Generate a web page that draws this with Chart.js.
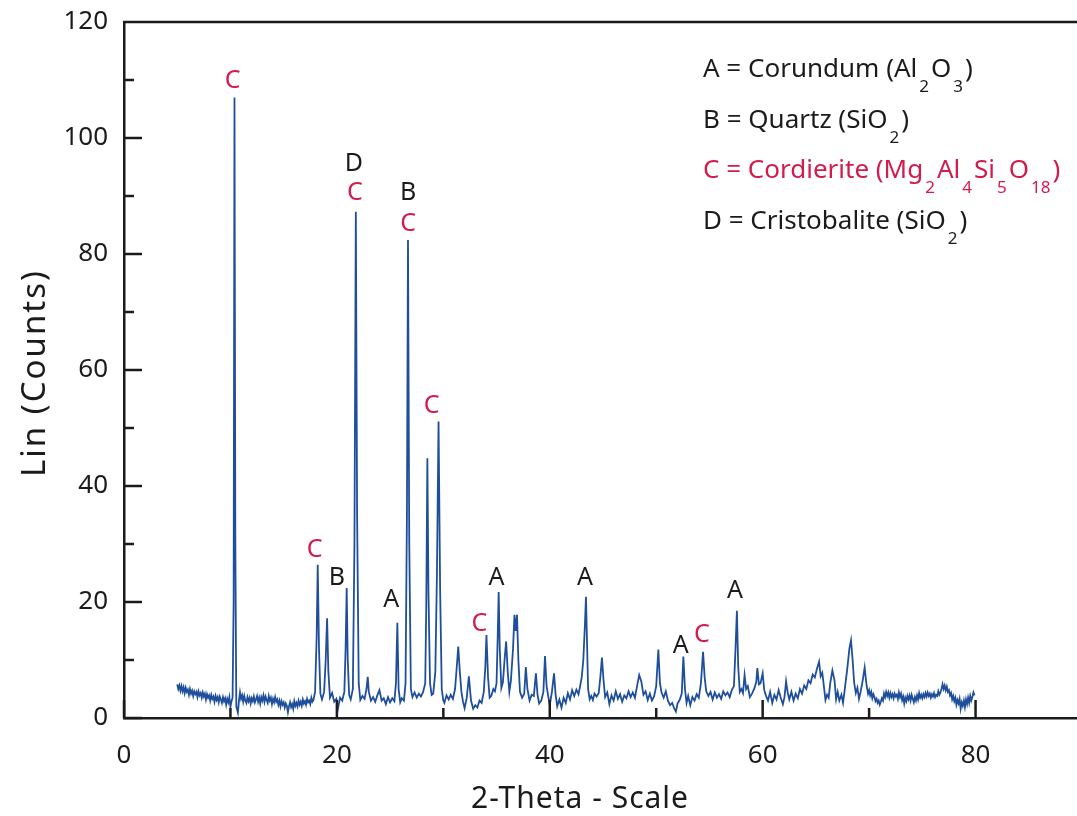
<!DOCTYPE html>
<html>
<head>
<meta charset="utf-8">
<script src="https://cdn.jsdelivr.net/npm/chart.js@4.4.1/dist/chart.umd.min.js"></script>
<style>
  html, body { margin: 0; padding: 0; background: #fff; overflow: hidden; }
  #wrap { width: 1090px; height: 816px; }
</style>
</head>
<body>
<div id="wrap"><canvas id="xrd"></canvas></div>
<script>
/* ── Data ────────────────────────────────────────── */
const twoTheta = [
  5.0, 5.1, 5.2, 5.3, 5.4, 5.5, 5.6, 5.7, 5.8, 5.9,
  6.0, 6.1, 6.2, 6.3, 6.4, 6.5, 6.6, 6.7, 6.8, 6.9,
  7.0, 7.1, 7.2, 7.3, 7.4, 7.5, 7.6, 7.7, 7.8, 7.9,
  8.0, 8.1, 8.2, 8.3, 8.4, 8.5, 8.6, 8.7, 8.8, 8.9,
  9.0, 9.1, 9.2, 9.3, 9.4, 9.5, 9.6, 9.7, 9.8, 9.9,
  10.0, 10.1, 10.2, 10.3, 10.38, 10.46,
  10.55, 10.7, 10.8, 10.9, 11.0, 11.1, 11.2, 11.3, 11.4, 11.5,
  11.6, 11.7, 11.8, 11.9, 12.0, 12.1, 12.2, 12.3, 12.4, 12.5,
  12.6, 12.7, 12.8, 12.9, 13.0, 13.1, 13.2, 13.3, 13.4, 13.5,
  13.6, 13.7, 13.8, 13.9, 14.0, 14.1, 14.2, 14.3, 14.4, 14.5,
  14.6, 14.7, 14.8, 14.9, 15.0, 15.1, 15.2, 15.3, 15.4, 15.5,
  15.6, 15.7, 15.8, 15.9, 16.0, 16.1, 16.2, 16.3, 16.4, 16.5,
  16.6, 16.7, 16.8, 16.9, 17.0, 17.1, 17.2, 17.3, 17.4, 17.5,
  17.6, 17.7, 17.8, 17.95, 18.1,
  18.2, 18.32, 18.45, 18.6, 18.8, 18.95, 19.08, 19.2, 19.35, 19.55,
  19.75, 19.95, 20.1, 20.3, 20.5, 20.7, 20.82, 20.92, 21.02, 21.15,
  21.3, 21.5, 21.65, 21.78, 21.9, 22.05, 22.2, 22.4, 22.6, 22.78,
  22.9, 23.0, 23.2, 23.4, 23.6, 23.8, 24.0, 24.2, 24.4, 24.6,
  24.8, 25.0, 25.2, 25.4, 25.55, 25.68, 25.8, 25.95, 26.1, 26.3,
  26.45, 26.58, 26.68, 26.8, 26.95, 27.1, 27.3, 27.5, 27.7, 27.9,
  28.1, 28.3, 28.4, 28.5, 28.6, 28.75, 28.9, 29.05, 29.25, 29.4,
  29.55, 29.7, 29.85, 30.0, 30.1, 30.3, 30.5, 30.7, 30.9, 31.1,
  31.25, 31.4, 31.55, 31.7, 31.85, 32.0, 32.2, 32.4, 32.6, 32.8,
  33.0, 33.2, 33.4, 33.6, 33.8, 33.95, 34.05, 34.2, 34.35, 34.5,
  34.7, 34.85, 35.0, 35.12, 35.2, 35.3, 35.45, 35.6, 35.75, 35.9,
  36.05, 36.2, 36.35, 36.55, 36.68, 36.8, 36.92, 37.05, 37.2, 37.4,
  37.6, 37.75, 37.9, 38.1, 38.3, 38.5, 38.7, 38.85, 39.0, 39.2,
  39.4, 39.55, 39.7, 39.85, 40.0, 40.2, 40.4, 40.55, 40.7, 40.9,
  41.1, 41.3, 41.5, 41.7, 41.9, 42.1, 42.3, 42.5, 42.7, 42.85,
  43.0, 43.15, 43.3, 43.4, 43.5, 43.6, 43.75, 43.9, 44.05, 44.2,
  44.4, 44.6, 44.75, 44.9, 45.05, 45.2, 45.4, 45.6, 45.8, 46.0,
  46.2, 46.4, 46.6, 46.8, 47.0, 47.2, 47.4, 47.6, 47.8, 48.0,
  48.2, 48.4, 48.6, 48.8, 49.0, 49.2, 49.4, 49.6, 49.8, 50.0,
  50.2, 50.35, 50.5, 50.7, 50.9, 51.1, 51.3, 51.5, 51.7, 51.85,
  52.0, 52.2, 52.4, 52.55, 52.7, 52.85, 53.0, 53.2, 53.4, 53.6,
  53.8, 54.0, 54.2, 54.4, 54.55, 54.7, 54.9, 55.1, 55.3, 55.5,
  55.7, 55.9, 56.1, 56.3, 56.5, 56.7, 56.9, 57.1, 57.3, 57.45,
  57.58, 57.7, 57.85, 58.0, 58.15, 58.3, 58.45, 58.6, 58.8, 59.0,
  59.2, 59.4, 59.5, 59.65, 59.8, 60.0, 60.15, 60.3, 60.5, 60.7,
  60.9, 61.1, 61.3, 61.5, 61.7, 61.9, 62.05, 62.2, 62.35, 62.5,
  62.7, 62.9, 63.1, 63.3, 63.5, 63.7, 63.9, 64.1, 64.3, 64.5,
  64.7, 64.9, 65.1, 65.3, 65.45, 65.6, 65.75, 65.9, 66.05, 66.2,
  66.35, 66.55, 66.75, 66.9, 67.05, 67.2, 67.4, 67.55, 67.75, 67.95,
  68.15, 68.3, 68.45, 68.6, 68.75, 68.9, 69.05, 69.2, 69.4, 69.58,
  69.75, 69.9,
  70.0, 70.1, 70.2, 70.3, 70.4, 70.5, 70.6, 70.7, 70.8, 70.9,
  71.0, 71.1, 71.2, 71.3, 71.4, 71.5, 71.6, 71.7, 71.8, 71.9,
  72.0, 72.1, 72.2, 72.3, 72.4, 72.5, 72.6, 72.7, 72.8, 72.9,
  73.0, 73.1, 73.2, 73.3, 73.4, 73.5, 73.6, 73.7, 73.8, 73.9,
  74.0, 74.1, 74.2, 74.3, 74.4, 74.5, 74.6, 74.7, 74.8, 74.9,
  75.0, 75.1, 75.2, 75.3, 75.4, 75.5, 75.6, 75.7, 75.8, 75.9,
  76.0, 76.1, 76.2, 76.3, 76.4, 76.5, 76.6, 76.7, 76.8, 76.9,
  77.0, 77.1, 77.2, 77.3, 77.4, 77.5, 77.6, 77.7, 77.8, 77.9,
  78.0, 78.1, 78.2, 78.3, 78.4, 78.5, 78.6, 78.7, 78.8, 78.9,
  79.0, 79.1, 79.2, 79.3, 79.4, 79.5, 79.6, 79.7, 79.8, 79.9
];
const counts = [
  5.8, 5.0, 5.6, 4.7, 5.5, 4.6, 5.3, 4.3, 5.2, 4.5,
  4.9, 4.0, 5.0, 4.2, 4.7, 3.8, 4.6, 4.1, 4.5, 3.6,
  4.6, 3.9, 4.3, 3.5, 4.4, 3.7, 4.2, 3.2, 4.1, 3.5,
  3.9, 3.0, 4.0, 3.3, 3.7, 2.8, 3.8, 3.1, 3.6, 2.7,
  3.7, 3.2, 2.6, 3.6, 2.9, 3.4, 2.3, 3.3, 2.7, 3.6,
  1.9, 2.9, 3.5, 20, 107, 30,
  2.0, 0.9, 3.0, 4.4, 3.3, 3.9, 2.8, 3.8, 3.0, 2.6,
  3.6, 2.9, 3.5, 2.5, 3.4, 2.9, 3.7, 2.7, 3.2, 3.8,
  2.8, 3.5, 2.5, 3.6, 3.0, 3.9, 2.8, 3.7, 3.1, 2.6,
  3.8, 3.0, 3.5, 2.4, 3.3, 2.7, 3.6, 2.8, 3.2, 2.3,
  3.0, 2.0, 2.9, 2.3, 2.7, 1.8, 2.5, 2.1, 1.0, 2.0,
  2.7, 1.9, 2.4, 1.6, 2.9, 2.1, 2.6, 2.0, 3.0, 2.3,
  2.8, 2.1, 3.2, 2.5, 2.9, 2.3, 3.3, 2.7, 3.0, 2.4,
  3.5, 2.8, 3.1, 4.5, 14,
  26.4, 12, 4.2, 3.2, 4.5, 10, 17.2, 8, 3.5, 4.3,
  2.8, 3.3, 1.6, 3.5, 3.0, 4.5, 12, 22.4, 10, 4.0,
  3.2, 5, 30, 87.3, 35, 6, 3.1, 3.8, 3.3, 5,
  7.1, 4.5, 3.0, 3.6, 2.8, 3.9, 4.8, 3.0, 3.4, 2.4,
  3.6, 2.7, 3.4, 2.9, 6, 16.4, 5, 2.7, 3.4, 3.0,
  6, 35, 82.4, 30, 5, 3.6, 4.4, 3.5, 4.2, 3.7,
  4.5, 6, 20, 44.8, 22, 6, 4.0, 4.2, 8, 25,
  51.1, 22, 5, 3.0, 2.6, 3.9, 3.2, 4.0, 3.3, 5.0,
  8.5, 12.3, 8, 4.5, 2.8, 1.7, 3.5, 7.2, 3.0, 1.6,
  2.2, 1.8, 3.0, 2.6, 4.5, 9, 14.3, 7, 3.5, 3.8,
  5.0, 4.6, 6, 15, 21.7, 12, 5.2, 6.2, 10, 13.2,
  8, 4.5, 6.5, 12, 17.8, 15, 17.8, 10, 4.5, 3.5,
  4.2, 8.8, 5.0, 3.0, 4.0, 3.8, 7.7, 4.0, 2.5, 3.0,
  4.5, 10.7, 5.5, 3.8, 2.2, 4.5, 7.7, 4.0, 2.0, 3.2,
  1.8, 3.5, 2.6, 4.3, 3.2, 4.8, 3.8, 4.9, 4.1, 5.5,
  7, 10, 16, 20.9, 13, 5, 3.2, 3.8, 3.1, 4.2,
  3.7, 4.3, 7, 10.4, 6.5, 3.6, 4.4, 2.4, 3.9, 3.0,
  4.6, 3.3, 4.1, 2.8, 3.9, 3.4, 4.6, 3.6, 4.4, 3.5,
  5.5, 7.4, 6.3, 4.0, 4.6, 3.1, 4.2, 3.0, 3.7, 5.5,
  11.8, 6, 4.4, 3.5, 4.6, 3.0, 2.2, 2.6, 1.6, 1.1,
  2.5, 3.1, 4.2, 10.6, 5.0, 2.6, 3.8, 2.2, 3.6, 3.0,
  4.1, 3.5, 6, 11.4, 7, 4.6, 3.8, 4.5, 3.2, 4.4,
  3.5, 4.1, 3.3, 4.6, 3.9, 4.4, 3.6, 4.8, 5.5, 12,
  18.5, 9, 4.5, 5.0, 4.3, 7.4, 5.0, 5.5, 3.6, 4.2,
  5.0, 6.2, 8.6, 5.8, 6.0, 7.7, 4.8, 3.9, 3.0, 4.5,
  2.6, 4.0, 3.2, 4.8, 3.5, 2.4, 3.6, 6.3, 4.4, 3.2,
  4.5, 3.0, 4.2, 3.4, 5.0, 4.2, 5.6, 5.0, 6.5, 6.0,
  7.5, 7.0, 8.5, 9.7, 7.2, 7.8, 5.5, 3.1, 4.0, 3.5,
  6.0, 8.2, 6.5, 3.2, 4.5, 3.0, 4.0, 2.6, 5.5, 8.5,
  12, 13.4, 10, 6.0, 4.3, 5.2, 3.3, 4.5, 6.5, 8.7,
  5.8, 4.2,
  4.8, 3.9, 4.5, 3.4, 4.1, 3.6, 2.9, 3.3, 2.6, 3.0,
  2.3, 2.8, 3.4, 3.0, 4.2, 3.6, 4.5, 3.8, 4.4, 3.5,
  4.3, 3.6, 4.1, 3.4, 4.2, 3.7, 4.0, 3.3, 4.4, 3.6,
  4.2, 3.1, 3.7, 2.5, 3.5, 2.9, 3.8, 3.2, 3.9, 3.0,
  4.0, 3.3, 2.7, 3.6, 3.0, 3.9, 3.2, 4.3, 3.5, 4.0,
  3.4, 4.1, 3.6, 4.3, 3.7, 4.4, 3.8, 4.2, 3.5, 4.1,
  3.7, 4.3, 3.6, 4.0, 3.8, 4.6, 4.0, 4.4, 5.0, 5.8,
  5.0, 5.6, 4.8, 5.4, 4.5, 4.8, 3.9, 4.3, 3.2, 3.8,
  2.9, 3.5, 2.3, 3.1, 2.5, 3.3, 1.6, 2.7, 2.1, 3.0,
  1.9, 3.2, 2.4, 3.5, 2.6, 3.8, 3.0, 3.6, 4.4, 3.9
];

// phase labels over the peaks (x = 2θ, y = text baseline in counts)
const peakLabelX    = [10.2, 21.6, 21.7, 26.7, 26.7, 28.9, 17.9, 20.0, 25.1, 33.4, 35.0, 43.3, 52.3, 54.3, 57.4];
const peakLabelY    = [108.6, 94.3, 89.3, 89.3, 84.0, 52.6, 27.8, 22.9, 19.1, 15.0, 22.9, 22.9, 11.2, 13.1, 20.7];
const peakLabelText = ['C', 'D', 'C', 'B', 'C', 'C', 'C', 'B', 'A', 'C', 'A', 'A', 'A', 'C', 'A'];

const legendRows = [
  'A = Corundum (Al_2O_3)',
  'B = Quartz (SiO_2)',
  'C = Cordierite (Mg_2Al_4Si_5O_18)',
  'D = Cristobalite (SiO_2)'
];

const xMajorTicks = [0, 20, 40, 60, 80];
const xMinorTicks = [10, 30, 50, 70];
const yMajorTicks = [0, 20, 40, 60, 80, 100, 120];
const yMinorTicks = [10, 30, 50, 70, 90, 110];

/* ── Styles ──────────────────────────────────────── */
const INK   = '#1b1b1b';
const RED   = '#d31c4b';
const LINE  = '#1f4f9c';
const FONT  = '"Noto Sans", "Open Sans", sans-serif';

function phaseColor(t) { return t === 'C' ? RED : INK; }

/* ── Plugins ─────────────────────────────────────── */
const frameTicks = {
  id: 'frameTicks',
  afterDraw(chart) {
    const { ctx, chartArea: a, scales: { x, y } } = chart;
    ctx.save();
    ctx.strokeStyle = INK;
    ctx.lineWidth = 2.5;
    ctx.beginPath();
    ctx.moveTo(a.left - 1, a.top);
    ctx.lineTo(a.right, a.top);
    ctx.stroke();

    const tick = (vals, len, isX) => vals.forEach(v => {
      ctx.beginPath();
      if (isX) {
        const px = x.getPixelForValue(v);
        ctx.moveTo(px, a.bottom);
        ctx.lineTo(px, a.bottom - len);
      } else {
        const py = y.getPixelForValue(v);
        ctx.moveTo(a.left, py);
        ctx.lineTo(a.left + len, py);
      }
      ctx.stroke();
    });
    tick(xMajorTicks, 18, true);
    tick(xMinorTicks, 10, true);
    tick(yMajorTicks.filter(v => v < 120), 18, false);
    tick(yMinorTicks, 10, false);

    // axis titles
    ctx.fillStyle = INK;
    ctx.textAlign = 'center';
    ctx.textBaseline = 'alphabetic';
    ctx.font = '30px ' + FONT;
    ctx.letterSpacing = '1px';
    ctx.fillText('2-Theta - Scale', 580, 808);
    ctx.font = '33px ' + FONT;
    ctx.letterSpacing = '2px';
    ctx.translate(45, 373);
    ctx.rotate(-Math.PI / 2);
    ctx.fillText('Lin (Counts)', 0, 0);
    ctx.restore();
  }
};

const peakLabels = {
  id: 'peakLabels',
  afterDatasetsDraw(chart) {
    const { ctx, scales: { x, y } } = chart;
    ctx.save();
    ctx.font = '25px ' + FONT;
    ctx.textAlign = 'center';
    ctx.textBaseline = 'alphabetic';
    peakLabelText.forEach((t, i) => {
      ctx.fillStyle = phaseColor(t);
      ctx.fillText(t, x.getPixelForValue(peakLabelX[i]), y.getPixelForValue(peakLabelY[i]));
    });
    ctx.restore();
  }
};

const phaseKey = {
  id: 'phaseKey',
  afterDraw(chart) {
    const { ctx } = chart;
    const left = 703, top = 77, gap = 50.5;
    ctx.save();
    ctx.textAlign = 'left';
    ctx.textBaseline = 'alphabetic';
    legendRows.forEach((row, i) => {
      ctx.fillStyle = phaseColor(row[0]);
      const parts = row.split(/_(\d+)/);
      let cx = left;
      const by = top + i * gap;
      parts.forEach((p, k) => {
        if (k % 2 === 0) {
          ctx.font = '26px ' + FONT;
          ctx.fillText(p, cx, by);
          cx += ctx.measureText(p).width;
        } else {
          ctx.font = '17px ' + FONT;
          cx += 2;
          ctx.fillText(p, cx, by + 15);
          cx += ctx.measureText(p).width + 2;
        }
      });
    });
    ctx.restore();
  }
};

/* ── Chart ───────────────────────────────────────── */
const points = twoTheta.map((t, i) => ({ x: t, y: counts[i] }));

new Chart(document.getElementById('xrd'), {
  type: 'scatter',
  data: {
    datasets: [{
      data: points,
      showLine: true,
      borderColor: LINE,
      borderWidth: 1.8,
      pointRadius: 0,
      tension: 0
    }]
  },
  options: {
    responsive: true,
    maintainAspectRatio: false,
    animation: false,
    layout: { padding: { top: 22, right: 8, left: 0, bottom: 0 } },
    plugins: { legend: { display: false }, tooltip: { enabled: false } },
    scales: {
      x: {
        type: 'linear',
        min: 0, max: 90,
        afterBuildTicks: s => { s.ticks = xMajorTicks.map(v => ({ value: v })); },
        afterFit: s => { s.height = 98; s.paddingLeft = 0; s.paddingRight = 0; },
        grid: { display: false, drawTicks: false },
        border: { display: true, color: INK, width: 2.5 },
        ticks: { color: INK, font: { size: 26, family: FONT }, padding: 22, maxRotation: 0 }
      },
      y: {
        min: 0, max: 120,
        afterBuildTicks: s => { s.ticks = yMajorTicks.map(v => ({ value: v })); },
        afterFit: s => { s.width = 124; s.paddingTop = 0; s.paddingBottom = 0; },
        grid: { display: false, drawTicks: false },
        border: { display: true, color: INK, width: 2.5 },
        ticks: { color: INK, font: { size: 26, family: FONT }, padding: 16 }
      }
    }
  },
  plugins: [peakLabels, frameTicks, phaseKey]
});
</script>
</body>
</html>
